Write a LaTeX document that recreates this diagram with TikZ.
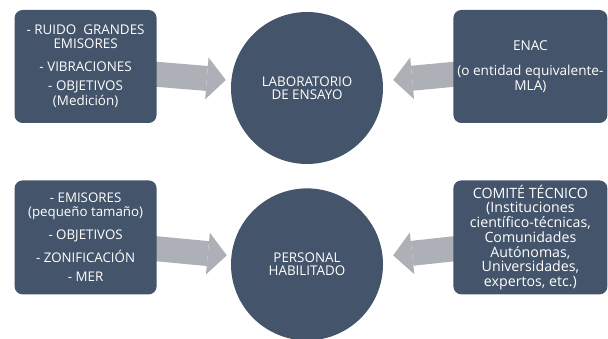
\documentclass[tikz,border=0pt]{standalone}
\usepackage{fontspec}
\setmainfont{Open Sans}
\usepackage{xcolor}
\usetikzlibrary{positioning, calc, arrows.meta, backgrounds}
\definecolor{slate}{HTML}{44546A}
\definecolor{ashgrey}{HTML}{ADB1B7}

\begin{document}
\begin{tikzpicture}[x=1pt, y=1pt, node distance = 24pt,
	hub/.style = {circle, fill=slate, text=white, minimum size=152pt, inner sep=0pt, align=center, font=\fontsize{13.4}{13.5}\selectfont},
	panel/.style = {rectangle, rounded corners=8pt, fill=slate, text=white, minimum width=142pt, minimum height=113pt, inner sep=0pt, align=center},
	feed/.style = {draw=ashgrey, line width=25pt, -{Triangle[length=19pt, width=42pt, line width=0pt]}}]
	\useasboundingbox (0,0) rectangle (608,339);
	
	\node[hub] (lab) at (307,251) {LABORATORIO\\DE ENSAYO};
	\node[hub, below = of lab] (pers) {PERSONAL\\HABILITADO};
	
	\node[panel, left = 74pt of lab, yshift=21.5pt, font=\fontsize{13.4}{14}\selectfont] (noise) {- RUIDO\ \ GRANDES\\ EMISORES\\[8.5pt] - VIBRACIONES\\[5.5pt] - OBJETIVOS\\[1pt] (Medición)};
	\node[panel, right = 70pt of lab, yshift=21.5pt, minimum width=154pt, font=\fontsize{13.6}{15}\selectfont] (enac) {ENAC\\[10pt] (o entidad equivalente-\\ MLA)};
	\node[panel, left = 74pt of pers, yshift=27pt, minimum height=114pt, font=\fontsize{13.3}{13.5}\selectfont] (small) {- EMISORES\\ (pequeño tamaño)\\[9.5pt] - OBJETIVOS\\[7pt] - ZONIFICACIÓN\\[6pt] - MER};
	\node[panel, right = 70pt of pers, yshift=27pt, minimum width=154pt, minimum height=114pt, font=\fontsize{14.2}{14.7}\selectfont] (comite) {COMITÉ TÉCNICO\\ (Instituciones\\ científico-técnicas,\\ Comunidades\\ Autónomas,\\ Universidades,\\ expertos, etc.)};
	
	\begin{scope}[on background layer]
		\draw[feed] ($(noise.east)+(-4,-7.5)$) -- ($(lab.west)+(-5,8)$);
		\draw[feed] ($(enac.west)+(4,-7.5)$) -- ($(lab.east)+(10,8)$);
		\draw[feed] ($(small.east)+(-4,-11)$) -- ($(pers.west)+(-4,9)$);
		\draw[feed] ($(comite.west)+(4,-11)$) -- ($(pers.east)+(10,9)$);
	\end{scope}
\end{tikzpicture}
\end{document}
